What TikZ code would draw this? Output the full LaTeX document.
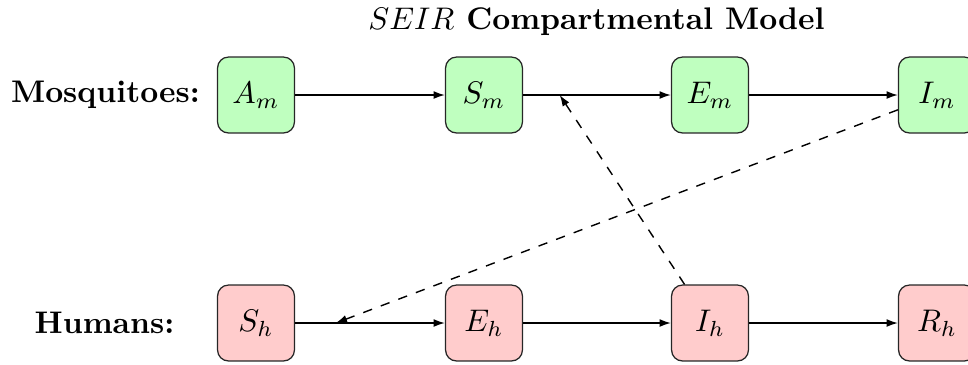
\documentclass[tikz,border=0pt]{standalone}
\usetikzlibrary{calc,arrows.meta}
\begin{document}
\begin{tikzpicture}[x=0.32pt,y=-0.32pt,
  comp/.style={draw=black!85, rounded corners=3.5pt, minimum width=24.6pt, minimum height=24.3pt, inner sep=1pt},
  mosq/.style={comp, fill=green!25},
  hum/.style={comp, fill=red!20},
  flow/.style={-{Latex[length=3.6pt,width=2.5pt]}, black, line width=0.5pt},
  infect/.style={-{Latex[length=3.6pt,width=2.5pt]}, dashed, black, line width=0.45pt},
  lbl/.style={font=\bfseries, anchor=center}]
\clip (0,0) rectangle (968,364);
\node[anchor=base, font=\bfseries] (title) at (596.5,29) {$SEIR$ Compartmental Model};
\node[lbl] (lm) at (105.5,95) {Mosquitoes:};
\node[lbl] (lh) at (104.5,323) {Humans:};
\node[mosq] (Am) at (256,95) {$A_m$};
\node[mosq] (Sm) at (484,95) {$S_m$};
\node[mosq] (Em) at (710,95) {$E_m$};
\node[mosq] (Im) at (937,95) {$I_m$};
\node[hum] (Sh) at (256,323) {$S_h$};
\node[hum] (Eh) at (484,323) {$E_h$};
\node[hum] (Ih) at (710,323) {$I_h$};
\node[hum] (Rh) at (937,323) {$R_h$};
\coordinate (bitem) at ($(Sm.center)!0.335!(Em.center)$);
\coordinate (biteh) at ($(Sh.center)!0.35!(Eh.center)$);
\draw[flow] (Am) -- (Sm);
\draw[flow] (Sm) -- (Em);
\draw[flow] (Em) -- (Im);
\draw[flow] (Sh) -- (Eh);
\draw[flow] (Eh) -- (Ih);
\draw[flow] (Ih) -- (Rh);
\draw[infect] (Ih) -- (bitem);
\draw[infect] (Im) -- (biteh);
\end{tikzpicture}
\end{document}
